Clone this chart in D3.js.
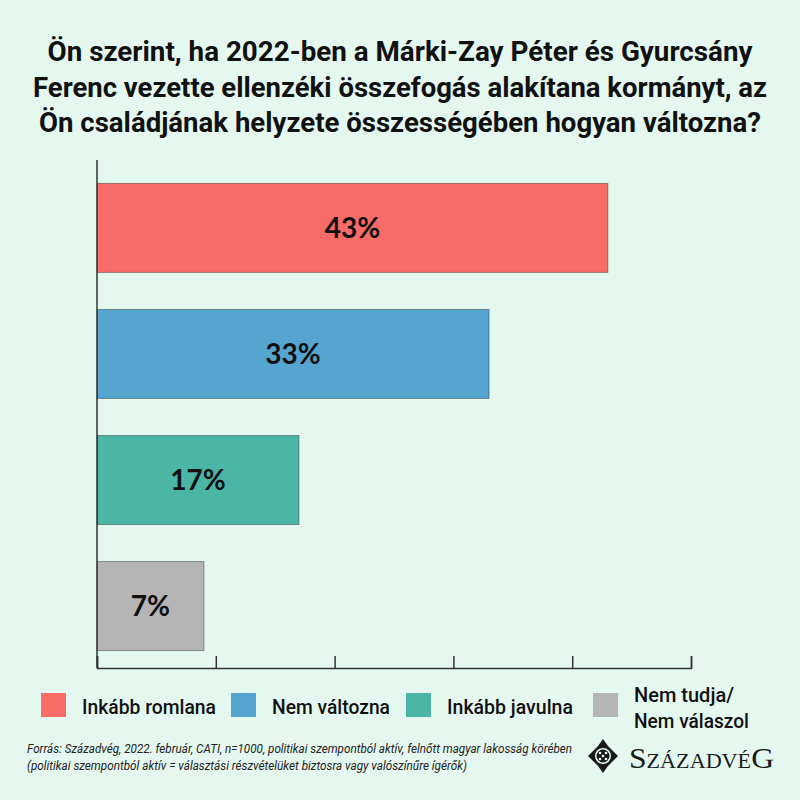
<!DOCTYPE html>
<html>
<head>
<meta charset="UTF-8">
<script src="https://d3js.org/d3.v7.min.js"></script>
<style>
  body { margin: 0; background: #e5f8f0; }
  svg { display: block; }
</style>
</head>
<body>
<svg></svg>
<script>
// chart data
const categories = ["Inkább romlana", "Nem változna", "Inkább javulna", "Nem tudja/ Nem válaszol"];
const shares = [43, 33, 17, 7];          // printed labels
const barLengths = [43, 33, 17, 9];      // lengths as drawn in the picture
const colors = ["#f86b66", "#55a5d0", "#4bb5a6", "#b5b5b5"];
const xTicks = [0, 10, 20, 30, 40, 50];
const titleLines = [
  "Ön szerint, ha 2022-ben a Márki-Zay Péter és Gyurcsány",
  "Ferenc vezette ellenzéki összefogás alakítana kormányt, az",
  "Ön családjának helyzete összességében hogyan változna?"
];
const noteLines = [
  "Forrás: Századvég, 2022. február, CATI, n=1000, politikai szempontból aktív, felnőtt magyar lakosság körében",
  "(politikai szempontból aktív = választási részvételüket biztosra vagy valószínűre ígérők)"
];

const width = 800, height = 800;
const svg = d3.select("svg").attr("width", width).attr("height", height);

svg.append("rect").attr("width", width).attr("height", height).attr("fill", "#e5f8f0");

// set text to a given width, like a condensed face
function fit(sel, w) {
  sel.attr("textLength", w).attr("lengthAdjust", "spacingAndGlyphs");
}

// title
const titleWidths = [705, 734, 722];
svg.append("g").selectAll("text")
  .data(titleLines)
  .join("text")
  .attr("x", 400)
  .attr("y", (d, i) => 61 + i * 35.5)
  .attr("text-anchor", "middle")
  .style("font-family", "Roboto, sans-serif")
  .style("font-weight", "bold")
  .style("font-size", "28px")
  .attr("fill", "#111")
  .text(d => d)
  .each(function (d, i) { fit(d3.select(this), titleWidths[i]); });

// scales
const x = d3.scaleLinear().domain([0, 50]).range([97, 691]);
const y = d3.scaleBand().domain(categories).range([162, 672])
  .paddingInner(0.294).paddingOuter(0.17);

// bars
svg.append("g").selectAll("rect")
  .data(categories)
  .join("rect")
  .attr("x", x(0))
  .attr("y", d => y(d))
  .attr("width", (d, i) => x(barLengths[i]) - x(0))
  .attr("height", y.bandwidth())
  .attr("fill", (d, i) => colors[i])
  .attr("stroke", "rgba(40,40,40,0.45)")
  .attr("stroke-width", 1);

// value labels
svg.append("g").selectAll("text")
  .data(categories)
  .join("text")
  .attr("x", (d, i) => (x(0) + x(barLengths[i])) / 2)
  .attr("y", d => y(d) + y.bandwidth() / 2)
  .attr("dy", "0.36em")
  .attr("text-anchor", "middle")
  .style("font-family", "Lato, sans-serif")
  .style("font-weight", "bold")
  .style("font-size", "28px")
  .attr("fill", "#111")
  .text((d, i) => shares[i] + "%");

// axes
svg.append("line")
  .attr("x1", x(0)).attr("x2", x(0))
  .attr("y1", 160).attr("y2", 668)
  .attr("stroke", "#333").attr("stroke-width", 1.5);

const xAxis = svg.append("g")
  .attr("transform", "translate(0,668)")
  .call(d3.axisBottom(x).tickValues(xTicks).tickSize(-12).tickFormat(""));
xAxis.selectAll("path, line").attr("stroke", "#333").attr("stroke-width", 1.5);

// legend
const legendX = [41, 231, 406, 593];
const legendW = [134, 118, 126];
const legend = svg.append("g").selectAll("g")
  .data(categories)
  .join("g")
  .attr("transform", (d, i) => `translate(${legendX[i]},693)`);

legend.append("rect")
  .attr("width", 25).attr("height", 24)
  .attr("fill", (d, i) => colors[i]);

legend.append("text")
  .attr("x", 41)
  .style("font-family", "Roboto, sans-serif")
  .style("font-weight", 500)
  .style("font-size", "19.5px")
  .attr("fill", "#111")
  .each(function (d, i) {
    const t = d3.select(this);
    if (d.includes("/")) {
      const lines = d.split("/ ");
      t.append("tspan").attr("x", 41).attr("y", 9).text(lines[0] + "/")
        .call(fit, 100);
      t.append("tspan").attr("x", 41).attr("y", 35).text(lines[1])
        .call(fit, 115);
    } else {
      t.attr("y", 21).text(d).call(fit, legendW[i]);
    }
  });

// source note
svg.append("g").selectAll("text")
  .data(noteLines)
  .join("text")
  .attr("x", 27)
  .attr("y", (d, i) => 753 + i * 17)
  .style("font-family", "Roboto, sans-serif")
  .style("font-style", "italic")
  .style("font-size", "12.5px")
  .attr("fill", "#222")
  .text(d => d)
  .each(function (d, i) { fit(d3.select(this), i === 0 ? 545 : 440); });

// logo
const logo = svg.append("g").attr("transform", "translate(603,756)");
logo.append("path")
  .attr("d", "M0,-17 L5,-10 L15,0 L5,10 L0,17 L-5,10 L-15,0 L-5,-10 Z")
  .attr("fill", "#1a1a1a");
logo.append("circle").attr("r", 8).attr("fill", "#e5f8f0");
logo.append("circle").attr("r", 6.5).attr("fill", "#1a1a1a");
[[-3, -3], [3, -3], [-3, 3], [3, 3], [0, 0]].forEach(p => {
  logo.append("circle").attr("cx", p[0]).attr("cy", p[1]).attr("r", 1.3).attr("fill", "#e5f8f0");
});

const logoText = svg.append("text")
  .attr("x", 629).attr("y", 768)
  .style("font-family", "'Liberation Serif', 'DejaVu Serif', serif")
  .attr("fill", "#1a1a1a");
logoText.append("tspan").style("font-size", "30px").text("S");
logoText.append("tspan").style("font-size", "21px").text("ZÁZADVÉ");
logoText.append("tspan").style("font-size", "30px").text("G");
fit(logoText, 145);
</script>
</body>
</html>
